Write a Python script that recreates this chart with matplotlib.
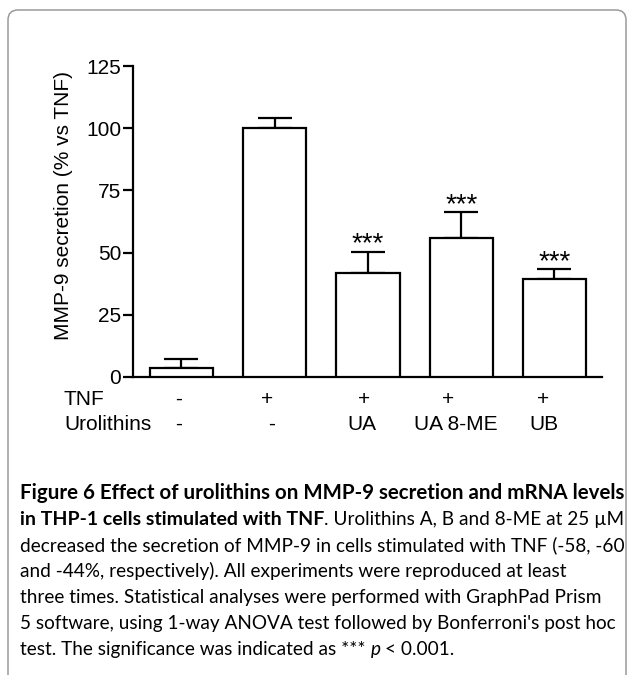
import matplotlib
matplotlib.use("Agg")
import matplotlib.pyplot as plt
import matplotlib.transforms as mtransforms
from matplotlib.patches import FancyBboxPatch
from matplotlib import font_manager as fm

# ---- data ----
categories = ["Control", "TNF", "TNF+UA", "TNF+UA 8-ME", "TNF+UB"]
means = [3.5, 100.0, 41.7, 56.0, 39.4]
errors = [3.6, 4.0, 8.7, 10.2, 3.9]
tnf_labels = ["-", "+", "+", "+", "+"]
uro_labels = ["-", "-", "UA", "UA 8-ME", "UB"]
significance = ["", "", "***", "***", "***"]
yticks = [0, 25, 50, 75, 100, 125]
ylabel = "MMP-9 secretion (% vs TNF)"

W, H = 628, 675
fig = plt.figure(figsize=(W / 100, H / 100), dpi=100)
fig.patch.set_facecolor("white")

# rounded frame
box = FancyBboxPatch((0.08, -0.10), 6.18, 6.75,
                     boxstyle="round,pad=0,rounding_size=0.1",
                     transform=fig.dpi_scale_trans, fill=False,
                     ec="#9a9a9a", lw=1.1)
fig.add_artist(box)

axfont = "Liberation Sans"
lw = 1.6

ax_left, ax_right, ax_top, ax_bot = 133, 602, 66, 377
ax = fig.add_axes([ax_left / W, 1 - ax_bot / H,
                   (ax_right - ax_left) / W, (ax_bot - ax_top) / H])

x = list(range(len(categories)))
ax.bar(x, means, width=0.68, color="white", edgecolor="black",
       linewidth=lw, zorder=3)
ax.errorbar(x, means, yerr=[[0] * len(errors), errors], fmt="none",
            ecolor="black", elinewidth=lw, capsize=12, capthick=lw, zorder=2)
for xi, m, e, s in zip(x, means, errors, significance):
    if s:
        ax.text(xi, m + e + 0.2, s, ha="center", va="baseline",
                fontsize=20, family=axfont)

ax.set_xlim(-0.52, 4.51)
ax.set_ylim(0, 125)
ax.set_yticks(yticks)
ax.set_yticklabels([str(t) for t in yticks], fontsize=15, family=axfont)
ax.set_xticks([])
for sp in ("top", "right"):
    ax.spines[sp].set_visible(False)
for sp in ("left", "bottom"):
    ax.spines[sp].set_linewidth(lw)
ax.tick_params(axis="y", length=7.5, width=lw, pad=1)

ax.set_ylabel(ylabel, fontsize=15, family=axfont)
ax.yaxis.set_label_coords(-0.128, 0.553)

# rows below axis
tnf_off = [-2.5, -7.5, -4, -13, -11]
uro_off = [-2.5, -3.5, -6, -5.5, -10.5]
ytr = lambda ypix: (ax_bot - ypix) / (ax_bot - ax_top)
xt = ax.get_xaxis_transform()
for i in x:
    t1 = xt + mtransforms.ScaledTranslation(tnf_off[i] / 100, 0, fig.dpi_scale_trans)
    ax.text(i, ytr(405), tnf_labels[i], transform=t1, ha="center",
            va="baseline", fontsize=15, family=axfont, clip_on=False)
    t2 = xt + mtransforms.ScaledTranslation(uro_off[i] / 100, 0, fig.dpi_scale_trans)
    ax.text(i, ytr(430), uro_labels[i], transform=t2, ha="center",
            va="baseline", fontsize=15, family=axfont, clip_on=False)
fig.text(63 / W, 1 - 405 / H, "TNF", ha="left", va="baseline",
         fontsize=15, family=axfont)
fig.text(64 / W, 1 - 430 / H, "Urolithins", ha="left", va="baseline",
         fontsize=15, family=axfont)

# ---- caption ----
names = {f.name for f in fm.fontManager.ttflist}
cap_family = ["Lato", "DejaVu Sans"] if "Lato" in names else ["DejaVu Sans"]
renderer = fig.canvas.get_renderer()


def width_px(s, size, weight="normal", style="normal"):
    t = fig.text(0, 0, s, fontsize=size, family=cap_family,
                 weight=weight, style=style)
    w = t.get_window_extent(renderer).width
    t.remove()
    return w


line1 = "Figure 6 Effect of urolithins on MMP-9 secretion and mRNA levels"
line2b = "in THP-1 cells stimulated with TNF"
line2r = ". Urolithins A, B and 8-ME at 25 \u00b5M"
line3 = "decreased the secretion of MMP-9 in cells stimulated with TNF (-58, -60"
line5 = "three times. Statistical analyses were performed with GraphPad Prism"
line6 = "5 software, using 1-way ANOVA test followed by Bonferroni's post hoc"
avail = 603
size_r = min(13 * avail / width_px(s, 13) for s in (line3, line5, line6))
w2r = width_px(line2r, size_r)
size_b1 = 13 * avail / width_px(line1, 13, "bold")
size_b2 = 13 * (avail - w2r) / width_px(line2b, 13, "bold")
space_r = width_px("a a", size_r) - width_px("aa", size_r)

lines = [
    [(line1, "bold", "normal")],
    [(line2b, "bold", "normal"), (line2r, "normal", "normal")],
    [(line3, "normal", "normal")],
    [("and -44%, respectively). All experiments were reproduced at least", "normal", "normal")],
    [(line5, "normal", "normal")],
    [(line6, "normal", "normal")],
    [("test. The significance was indicated as ***", "normal", "normal"),
     ("p", "normal", "italic"),
     ("< 0.001.", "normal", "normal")],
]
bold_sizes = {0: size_b1, 1: size_b2}

x0 = 20
base0 = 499
step = 26
for li, segs in enumerate(lines):
    xcur = x0
    y = base0 + li * step
    for si, (s, wgt, sty) in enumerate(segs):
        size = bold_sizes.get(li, size_b2) if wgt == "bold" else size_r
        if li == 6 and si > 0:
            xcur += space_r
        t = fig.text(xcur / W, 1 - y / H, s, ha="left", va="baseline",
                     fontsize=size, family=cap_family, weight=wgt, style=sty)
        xcur += t.get_window_extent(renderer).width

fig.savefig("out.png", dpi=100, facecolor="white")
